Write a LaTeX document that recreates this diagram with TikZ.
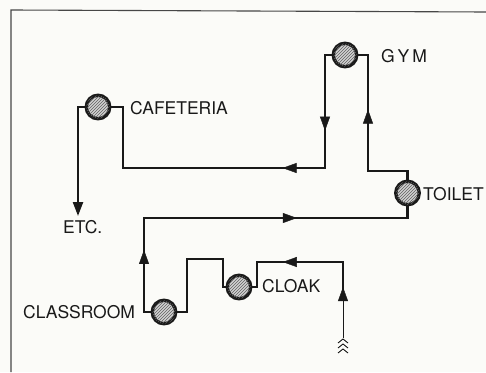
\documentclass[tikz,border=0pt]{standalone}
\usepackage{fontspec}
\setmainfont{TeX Gyre Heros}
\usetikzlibrary{arrows.meta,decorations.markings,patterns}
\definecolor{paper}{RGB}{251,251,248}
\definecolor{ink}{RGB}{25,25,25}
\begin{document}
\begin{tikzpicture}[x=1pt,y=-1pt,
  flow/.style={draw=ink,line width=2.3pt,line join=miter},
  thinflow/.style={draw=ink,line width=0.9pt},
  room/.style={circle,draw=ink,line width=3.4pt,minimum size=23.5pt,inner sep=0pt,
    fill=gray!35,postaction={pattern=north east lines,pattern color=gray!75!black}},
  lbl/.style={font=\fontsize{17.5}{19}\selectfont,text=ink,inner sep=0pt,anchor=base west},
  arrowat/.style={postaction={decorate},decoration={markings,
    mark=at position #1 with {\arrow[ink]{Triangle[length=14pt,width=10pt]}}}}]
\fill[paper] (0,0) rectangle (486,372);
\useasboundingbox (0,0) rectangle (486,372);
\draw[ink!80,line width=1.1pt] (11,372) -- (11,10) -- (486,12);

% rooms
\node[room] (caf) at (98,107) {};
\node[room] (gym) at (345,55) {};
\node[room] (toilet) at (407.5,193) {};
\node[room] (cloak) at (239,287) {};
\node[room] (class) at (164,312) {};

% labels
\node[lbl] (caflbl) at (130,114) {CAFETERIA};
\node[lbl] (gymlbl) at (381,62) {G\,Y\,M};
\node[lbl] (toiletlbl) at (423,200) {TOILET};
\node[lbl] (etclbl) at (63,233) {ETC.};
\node[lbl] (classlbl) at (23,318) {CLASSROOM};
\node[lbl] (cloaklbl) at (262,292) {CLOAK};

% route points
\coordinate (e1) at (78,107);
\coordinate (etcTip) at (78,216);
\coordinate (c1) at (123,107);
\coordinate (c2) at (123,168);
\coordinate (g1) at (325,168);
\coordinate (g2) at (325,55);
\coordinate (g3) at (368,55);
\coordinate (g4) at (368,171);
\coordinate (t1) at (407.5,171);
\coordinate (t2) at (407.5,218);
\coordinate (k1) at (144,218);
\coordinate (k2) at (144,312);
\coordinate (r1) at (187,312);
\coordinate (r2) at (187,259);
\coordinate (r3) at (223,259);
\coordinate (r4) at (223,287);
\coordinate (l1) at (257,287);
\coordinate (l2) at (257,262);
\coordinate (l3) at (343,262);
\coordinate (l4) at (343,292);
\coordinate (l5) at (343,338);

% connectors
\draw[flow,-{Triangle[length=14pt,width=10pt]}] (caf.west) -- (e1) -- (etcTip);
\draw[flow] (caf.east) -- (c1) -- (c2) -- (g1) -- (g2) -- (gym.west);
\draw[flow] (gym.east) -- (g3) -- (g4) -- (t1) -- (toilet.north);
\draw[flow] (toilet.south) -- (t2) -- (k1) -- (k2) -- (class.west);
\draw[flow] (class.east) -- (r1) -- (r2) -- (r3) -- (r4) -- (cloak.west);
\draw[flow] (cloak.east) -- (l1) -- (l2) -- (l3) -- (l4);
\draw[thinflow] (l5) -- (l4);

% arrowheads along the route
\path[arrowat=0.21] (g1) -- (c2);
\path[arrowat=0.67] (g2) -- (g1);
\path[arrowat=0.53] (g4) -- (g3);
\path[arrowat=0.58] (k1) -- (t2);
\path[arrowat=0.66] (k2) -- (k1);
\path[arrowat=0.70] (l3) -- (l2);
\path[arrowat=0.67] (l5) -- (l3);

% entrance chevrons
\foreach \dy in {1,6,11}
  \draw[ink,line width=0.9pt] ([shift={(-5,\dy+4)}]l5) -- ([shift={(0,\dy)}]l5) -- ([shift={(5,\dy+4)}]l5);
\end{tikzpicture}
\end{document}
